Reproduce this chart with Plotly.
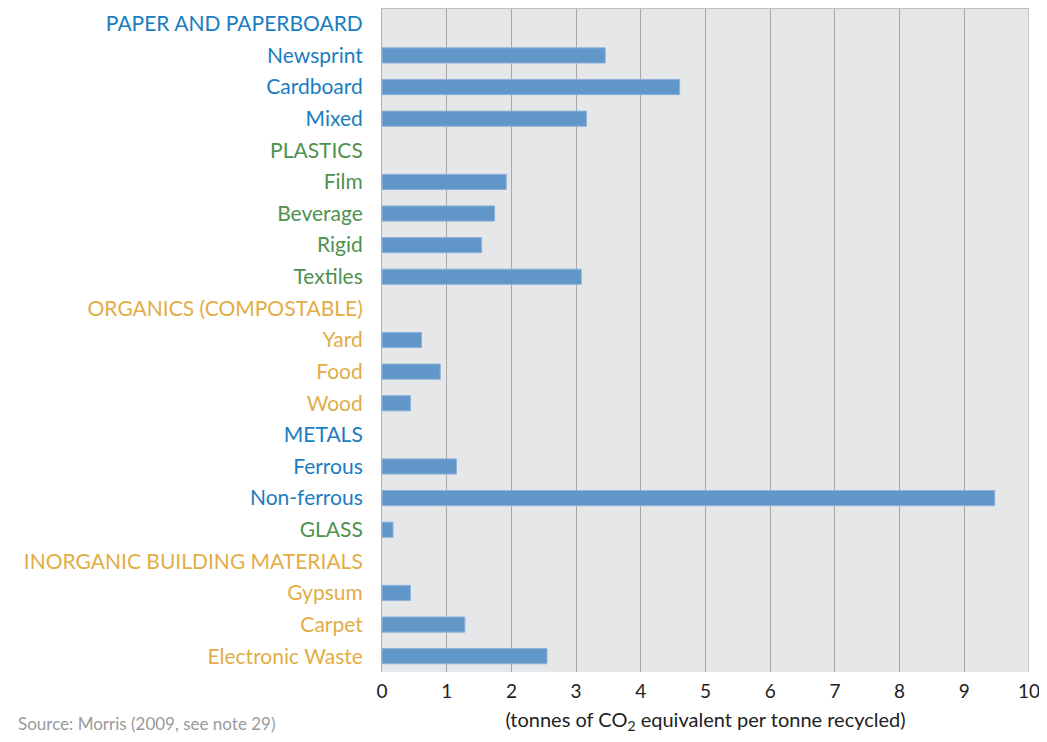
import plotly.graph_objects as go

categories = ["PAPER AND PAPERBOARD", "Newsprint", "Cardboard", "Mixed", "PLASTICS", "Film",
              "Beverage", "Rigid", "Textiles", "ORGANICS (COMPOSTABLE)", "Yard", "Food", "Wood",
              "METALS", "Ferrous", "Non-ferrous", "GLASS", "INORGANIC BUILDING MATERIALS",
              "Gypsum", "Carpet", "Electronic Waste"]
values = [None, 3.45, 4.6, 3.16, None, 1.92, 1.74, 1.54, 3.08, None, 0.61, 0.9, 0.44,
          None, 1.15, 9.47, 0.17, None, 0.44, 1.28, 2.55]
groups = ["blue", "blue", "blue", "blue", "green", "green", "green", "green", "green",
          "gold", "gold", "gold", "gold", "blue", "blue", "blue", "green", "gold",
          "gold", "gold", "gold"]
x_ticks = [0, 1, 2, 3, 4, 5, 6, 7, 8, 9, 10]

colors = {"blue": "#1a7dc0", "green": "#4f9150", "gold": "#e2ad45"}
ids = [f"c{i}" for i in range(len(categories))]
ticktext = [f'<span style="color:{colors[g]}">{c}</span>' for c, g in zip(categories, groups)]

W, H = 1031, 726
L, R, T, B = 374, 10, 0, 62
PW, PH = W - L - R, H - T - B

fig = go.Figure(go.Bar(
    y=ids, x=values, orientation="h",
    marker=dict(color="#6196c9", line=dict(color="#8db3da", width=1)),
    width=0.48,
))
fig.update_layout(
    width=W, height=H,
    margin=dict(l=L, r=R, t=T, b=B, autoexpand=False),
    plot_bgcolor="#e6e7e9", paper_bgcolor="white",
    font=dict(family="Lato, Open Sans, sans-serif", size=21, color="#222"),
    showlegend=False,
)
fig.update_yaxes(
    categoryorder="array", categoryarray=ids[::-1],
    tickmode="array", tickvals=ids, ticktext=ticktext,
    showgrid=False, ticks="", ticklen=0, ticklabelstandoff=14, automargin=False,
    showline=True, linecolor="#b0b0b0", linewidth=1, mirror=False,
    tickfont=dict(size=21),
)
fig.update_xaxes(
    range=[0, 10.0], tickmode="array", tickvals=x_ticks, automargin=False,
    showgrid=True, gridcolor="#a8a8a8", gridwidth=1, zeroline=False,
    tickfont=dict(size=19, color="#222"), ticks="", ticklabelstandoff=6,
    ticklabeloverflow="allow",
    title=dict(text="(tonnes of CO<sub>2</sub> equivalent per tonne recycled)",
               font=dict(size=20, color="#222"), standoff=16),
)
fig.add_shape(type="line", xref="paper", yref="paper", x0=0, x1=1, y0=1, y1=1,
              line=dict(color="#c0c0c0", width=2))
fig.add_shape(type="line", xref="x", yref="paper", x0=10, x1=10, y0=0, y1=1,
              line=dict(color="#a8a8a8", width=1))
fig.add_annotation(text="Source: Morris (2009, see note 29)", xref="paper", yref="paper",
                   x=-L / PW, y=-B / PH, xanchor="left", yanchor="bottom", showarrow=False,
                   font=dict(size=17, color="#9a9a9a"), xshift=8, yshift=-2)
fig.write_html("out.html")
